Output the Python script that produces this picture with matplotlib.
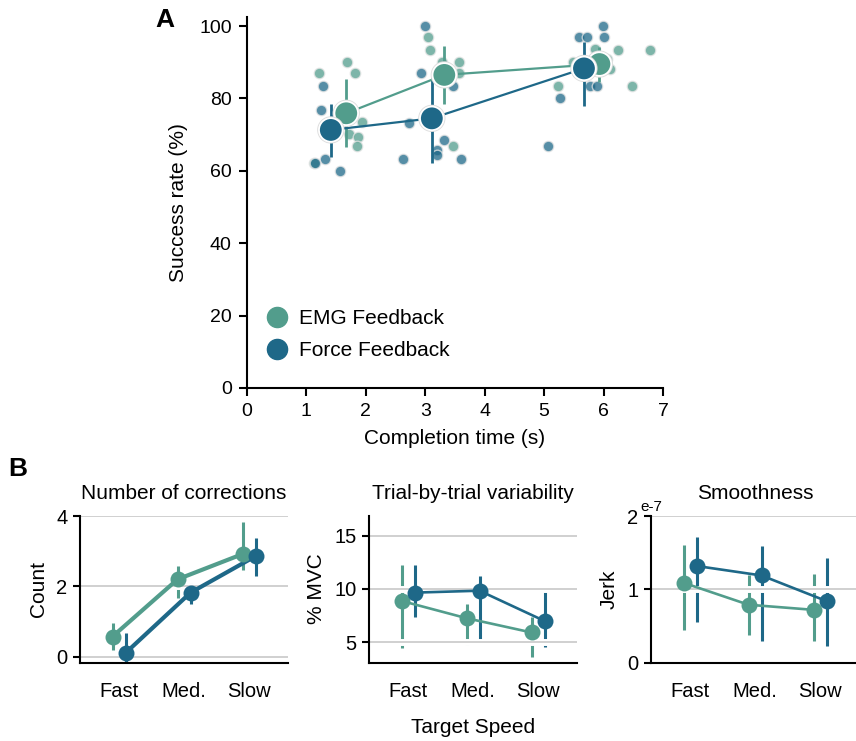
import numpy as np
import matplotlib
matplotlib.use("Agg")
import matplotlib.pyplot as plt
import matplotlib.patheffects as pe
from matplotlib.lines import Line2D

plt.rcParams['font.family'] = ['Liberation Sans', 'DejaVu Sans']

# ---------------- data ----------------
groups = ["EMG Feedback", "Force Feedback"]
speeds = ["Fast", "Med.", "Slow"]

# Panel A: group means (completion time, success rate) and success-rate error bars
emg_time = [1.67, 3.32, 5.93]
emg_succ = [75.9, 86.5, 89.5]
emg_succ_lo = [66.5, 78.4, 84.6]
emg_succ_hi = [85.3, 94.5, 94.3]
force_time = [1.41, 3.11, 5.67]
force_succ = [71.3, 74.5, 88.3]
force_succ_lo = [63.9, 62.3, 78.0]
force_succ_hi = [78.5, 86.7, 95.5]

# Panel A: individual subjects
emg_subj_time = [1.21, 1.68, 1.82, 1.94, 1.71, 1.86, 1.85, 1.13,
                 3.04, 3.08, 3.28, 3.56, 3.56, 3.47, 3.35, 3.40,
                 6.78, 6.24, 5.86, 5.49, 5.24, 6.48, 6.05, 6.10]
emg_subj_succ = [86.9, 90.2, 86.9, 73.6, 70.1, 69.4, 66.9, 62.1,
                 96.9, 93.4, 90.2, 90.2, 86.9, 66.9, 88.0, 85.5,
                 93.4, 93.4, 93.6, 90.2, 83.4, 83.4, 91.0, 88.0]
force_subj_time = [1.28, 1.25, 1.32, 1.14, 1.57,
                   3.00, 2.93, 2.73, 2.62, 3.32, 3.19, 3.20, 3.60, 3.47,
                   5.99, 5.58, 5.72, 6.00, 5.77, 5.89, 5.27, 5.07]
force_subj_succ = [83.4, 76.8, 63.4, 62.1, 60.0,
                   100.0, 86.9, 73.3, 63.4, 68.5, 65.7, 64.4, 63.4, 83.4,
                   100.0, 96.9, 96.9, 96.9, 83.4, 83.4, 80.0, 66.9]

# Panel B: number of corrections
count_emg = [0.57, 2.2, 2.92]
count_emg_lo = [0.2, 1.66, 2.46]
count_emg_hi = [0.95, 2.58, 3.84]
count_force = [0.1, 1.82, 2.86]
count_force_lo = [-0.48, 1.5, 2.29]
count_force_hi = [0.68, 2.1, 3.38]

# Panel B: trial-by-trial variability (% MVC)
var_emg = [8.88, 7.26, 5.92]
var_emg_lo = [4.46, 4.77, 3.6]
var_emg_hi = [12.24, 8.57, 7.4]
var_force = [9.66, 9.84, 7.0]
var_force_lo = [7.4, 5.17, 4.6]
var_force_hi = [12.3, 11.2, 10.07]

# Panel B: smoothness (jerk, units of 1e-7)
jerk_emg = [1.09, 0.79, 0.72]
jerk_emg_lo = [0.44, 0.37, 0.29]
jerk_emg_hi = [1.61, 1.2, 1.21]
jerk_force = [1.32, 1.19, 0.84]
jerk_force_lo = [0.55, 0.29, 0.23]
jerk_force_hi = [1.72, 1.59, 1.43]

EMG_C = '#529d8c'
FORCE_C = '#1e6888'

W, H = 856, 741
fig = plt.figure(figsize=(W / 100, H / 100), dpi=100)

def fx(px):
    return px / W

def fy(py):
    return (H - py) / H

# ---------------- Panel A ----------------
axA = fig.add_axes([fx(247), fy(388), fx(663) - fx(247), fy(17) - fy(388)])
axA.scatter(emg_subj_time, emg_subj_succ, s=58, color=EMG_C, alpha=0.75,
            edgecolor='#e6e6e6', linewidth=1.0, zorder=2)
axA.scatter(force_subj_time, force_subj_succ, s=58, color=FORCE_C, alpha=0.75,
            edgecolor='#e6e6e6', linewidth=1.0, zorder=2)

for t, m, lo, hi, c in [(emg_time, emg_succ, emg_succ_lo, emg_succ_hi, EMG_C),
                        (force_time, force_succ, force_succ_lo, force_succ_hi, FORCE_C)]:
    t = np.array(t); m = np.array(m)
    yerr = np.vstack([m - np.array(lo), np.array(hi) - m])
    axA.errorbar(t, m, yerr=yerr, fmt='none', ecolor=c, elinewidth=2.0, zorder=3)
    axA.plot(t, m, color=c, lw=1.6, zorder=4)
    axA.plot(t, m, 'o', color=c, ms=17, mec='white', mew=1.3, zorder=5,
             path_effects=[pe.Stroke(linewidth=2.6, foreground='#dddddd'), pe.Normal()])

axA.set_xlim(0, 7)
axA.set_ylim(0, 102.5)
axA.set_xticks(range(0, 8))
axA.set_yticks([0, 20, 40, 60, 80, 100])
axA.set_xlabel('Completion time (s)', fontsize=15, labelpad=6)
axA.set_ylabel('Success rate (%)', fontsize=15, labelpad=8)
axA.tick_params(labelsize=14, length=6, width=1.5, pad=5)
for s in ['top', 'right']:
    axA.spines[s].set_visible(False)
for s in ['left', 'bottom']:
    axA.spines[s].set_linewidth(1.5)

handles = [Line2D([], [], marker='o', ls='', ms=14.5, color=EMG_C),
           Line2D([], [], marker='o', ls='', ms=14.5, color=FORCE_C)]
axA.legend(handles, groups, loc='lower left', bbox_to_anchor=(-0.008, 0.025),
           frameon=False, fontsize=15, handlelength=1.4, handletextpad=0.35,
           labelspacing=0.6)

fig.text(fx(155), fy(27), 'A', fontsize=19, fontweight='bold', ha='left', va='baseline')
fig.text(fx(8), fy(476), 'B', fontsize=19, fontweight='bold', ha='left', va='baseline')

# ---------------- Panel B ----------------
bottom = fy(662.5)
height = fy(515.5) - fy(662.5)
width = fx(288) - fx(80)
lefts = [fx(80), fx(369), fx(651)]

panels = [
    ('Number of corrections', 'Count', (-0.17, 4.02), [0, 2, 4], 3.0,
     count_emg, count_emg_lo, count_emg_hi, count_force, count_force_lo, count_force_hi),
    ('Trial-by-trial variability', '% MVC', (3.1, 16.9), [5, 10, 15], 1.9,
     var_emg, var_emg_lo, var_emg_hi, var_force, var_force_lo, var_force_hi),
    ('Smoothness', 'Jerk', (0, 2.01), [0, 1, 2], 1.9,
     jerk_emg, jerk_emg_lo, jerk_emg_hi, jerk_force, jerk_force_lo, jerk_force_hi),
]

xpos = np.arange(len(speeds))
dodge = 0.1
axes_b = []
for i, (title, ylab, ylim, yt, lw, me, le, he, mf, lf, hf) in enumerate(panels):
    ax = fig.add_axes([lefts[i], bottom, width, height])
    axes_b.append(ax)
    for m, lo, hi, c, off in [(me, le, he, EMG_C, -dodge), (mf, lf, hf, FORCE_C, dodge)]:
        m = np.array(m)
        x = xpos + off
        yerr = np.vstack([m - np.array(lo), np.array(hi) - m])
        ax.errorbar(x, m, yerr=yerr, fmt='none', ecolor=c, elinewidth=2.2, zorder=2)
        ax.plot(x, m, color=c, lw=lw, zorder=4)
        ax.plot(x, m, 'o', color=c, ms=11.5, mew=0, zorder=5)
    ax.set_axisbelow(False)
    ax.yaxis.grid(True, color='#c8c8c8', lw=1.2)
    for gl in ax.get_ygridlines():
        gl.set_zorder(3)
        gl.set_path_effects([pe.Stroke(linewidth=5, foreground='white'), pe.Normal()])
    ax.set_xlim(-0.6, 2.6)
    ax.set_ylim(*ylim)
    ax.set_yticks(yt)
    ax.set_xticks(xpos)
    ax.set_xticklabels(speeds)
    ax.tick_params(axis='x', length=0, pad=14, labelsize=14.5)
    ax.tick_params(axis='y', length=5, width=1.5, labelsize=14.5, pad=4)
    ax.set_title(title, fontsize=15, pad=12)
    ax.set_ylabel(ylab, fontsize=15, labelpad=6)
    for s in ['top', 'right']:
        ax.spines[s].set_visible(False)
    for s in ['left', 'bottom']:
        ax.spines[s].set_linewidth(1.5)
        ax.spines[s].set_zorder(6)

axes_b[1].set_xlabel('Target Speed', fontsize=15, labelpad=12)
axes_b[2].text(0.0, 1.01, 'e-7', transform=axes_b[2].transAxes, fontsize=11,
               ha='center', va='bottom')

fig.savefig('out.png', dpi=100)
